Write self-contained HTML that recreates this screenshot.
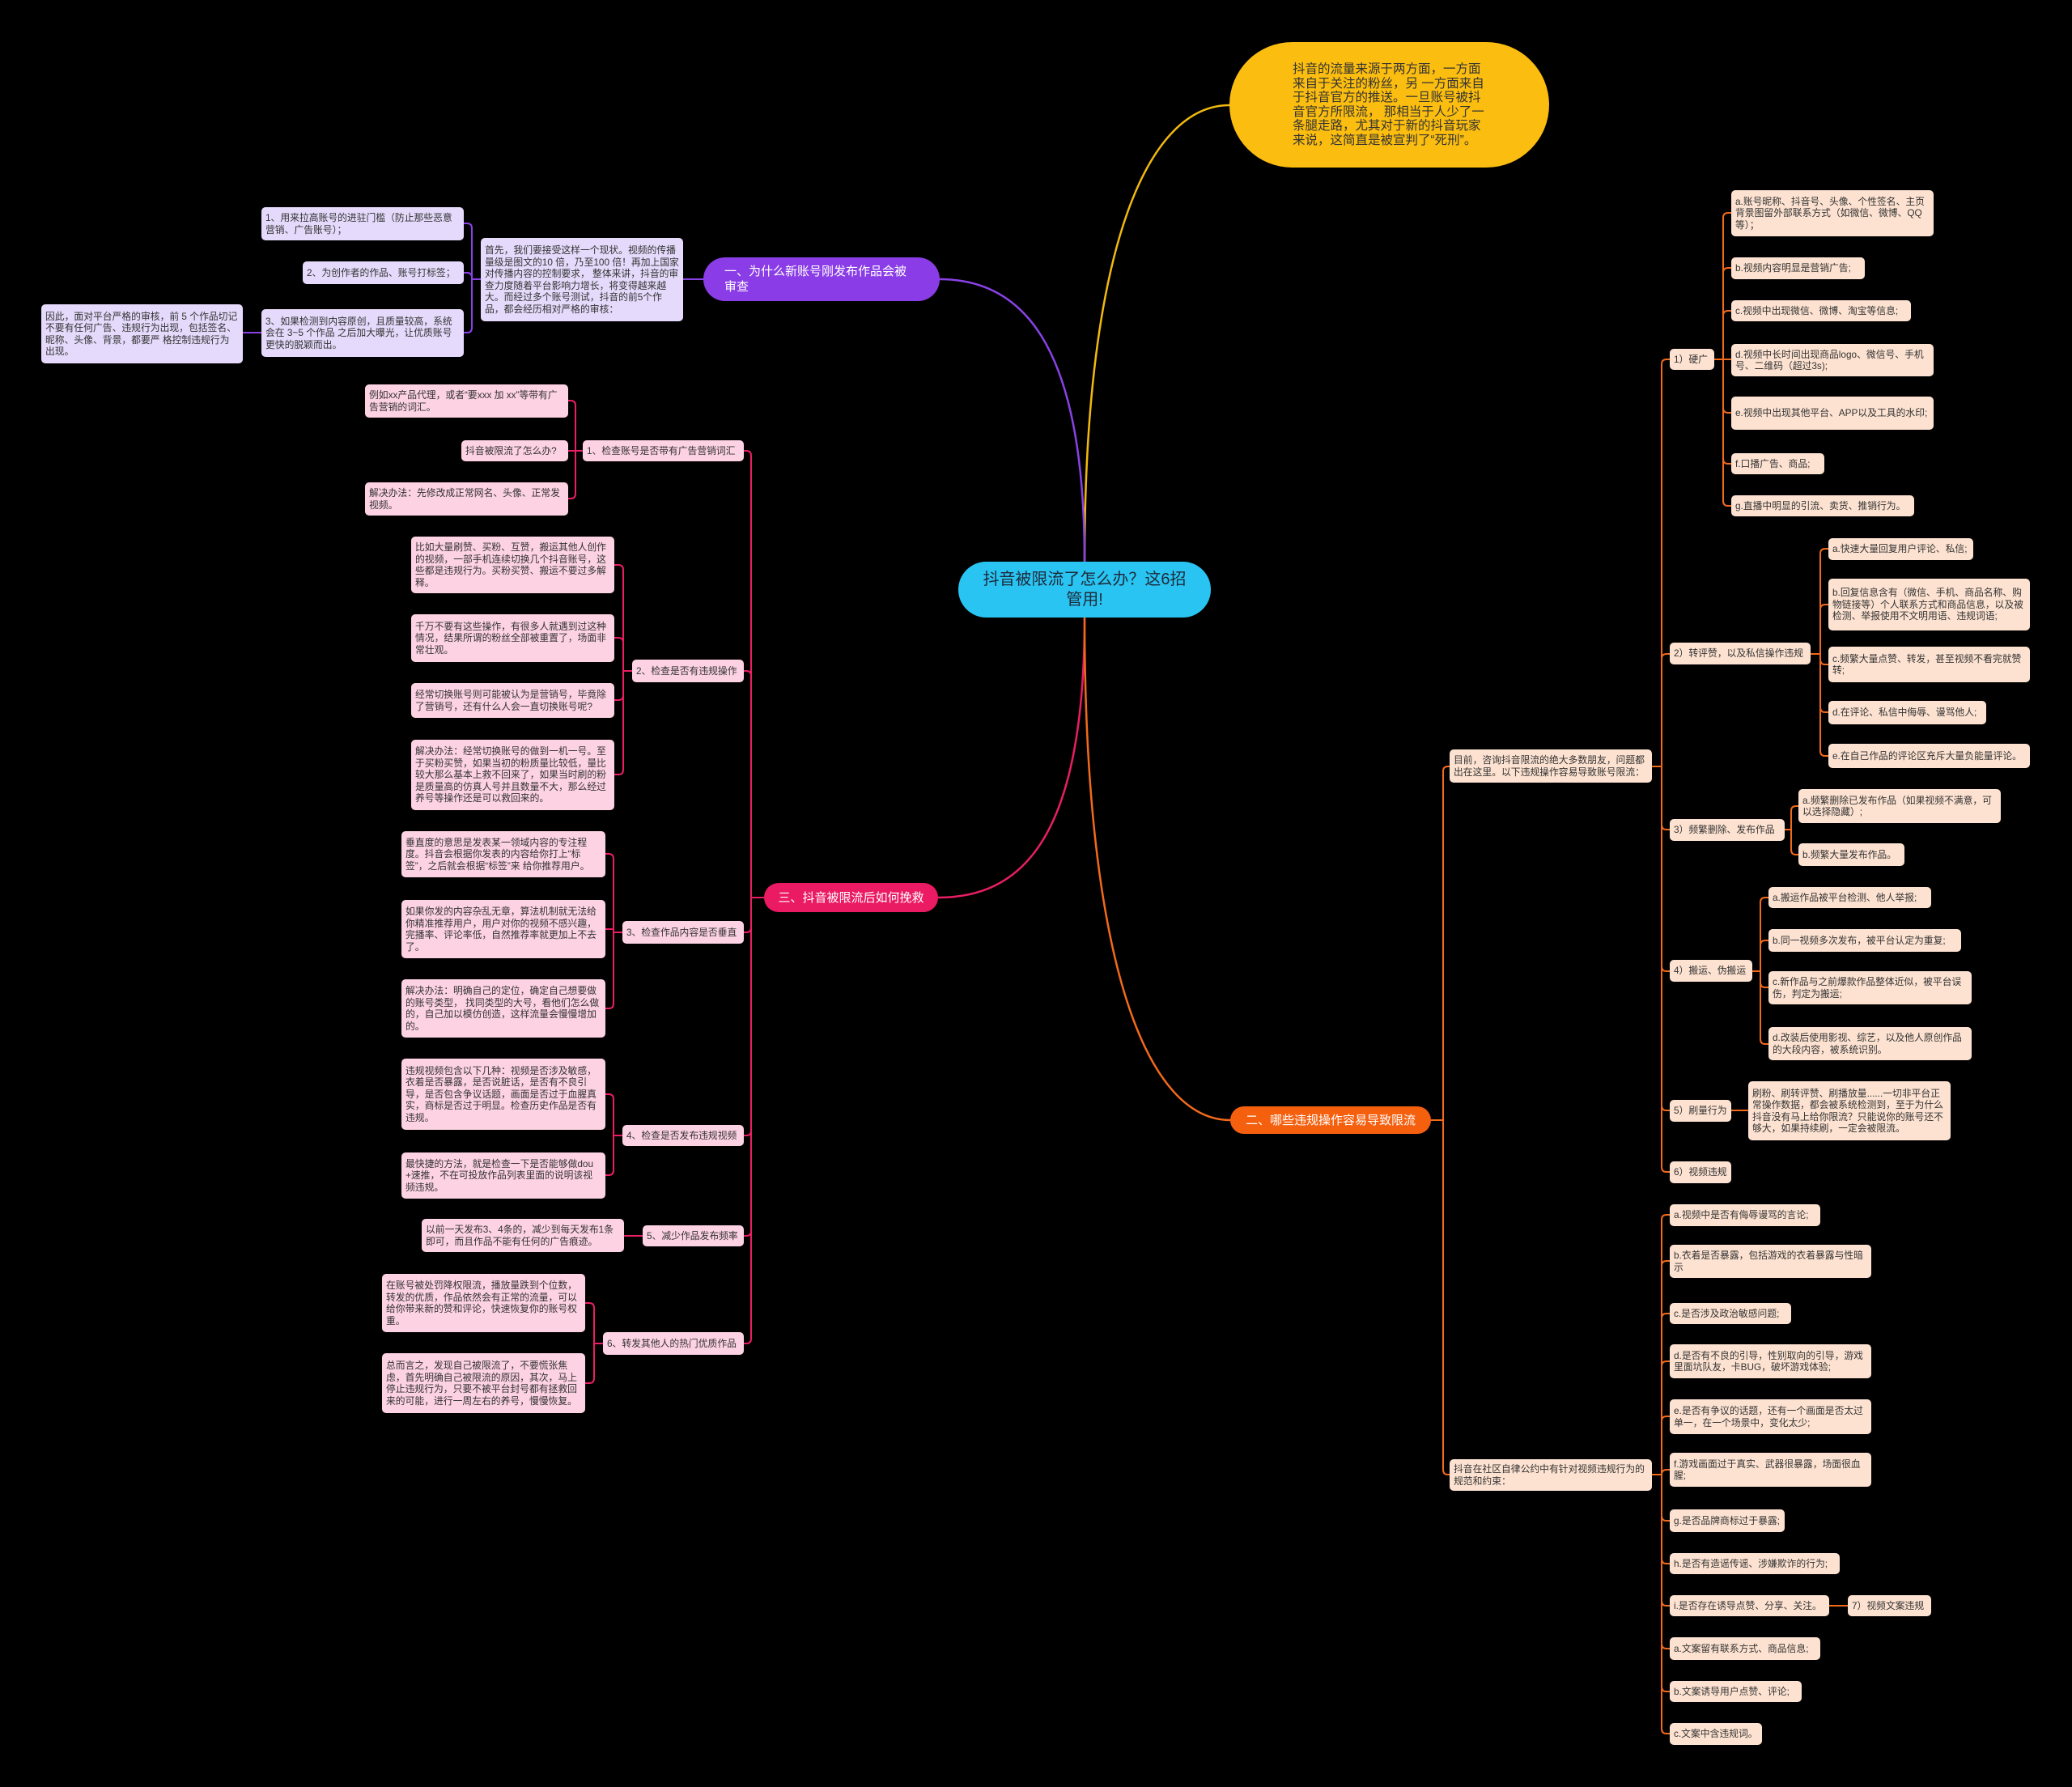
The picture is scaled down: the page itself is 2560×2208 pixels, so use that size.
<!DOCTYPE html>
<html><head><meta charset="utf-8">
<style>
html,body{margin:0;padding:0;background:#000;}
#c{position:relative;width:2560px;height:2208px;background:#000;overflow:hidden;font-family:"Liberation Sans","Noto Sans CJK SC",sans-serif;}
.n{position:absolute;box-sizing:border-box;padding:3px 5px;font-size:11.8px;line-height:14.5px;border-radius:5px;color:#333;display:flex;align-items:center;word-break:break-all;}
.p{background:#e5dafb;}
.m{background:#fdd2e3;}
.o{background:#fde2d1;}
.big{position:absolute;box-sizing:border-box;color:#fff;font-size:15px;line-height:19px;display:flex;align-items:center;padding:0 14px;}
svg{position:absolute;left:0;top:0;}
</style></head><body><div id="c">
<svg width="2560" height="2208" fill="none" stroke-linecap="round">
<g stroke-width="2.5">
<path d="M1340 694 C1340 300,1420 130,1519 130" stroke="#f2b90f"/>
<path d="M1340 694 C1340 420,1260 345,1161 345" stroke="#8a42e6"/>
<path d="M1340 763 C1340 1040,1260 1109,1159 1109" stroke="#e91e63"/>
<path d="M1340 763 C1340 1200,1420 1384,1520 1384" stroke="#f26a1b"/>
</g>
<g stroke="#8a42e6" stroke-width="2">
<path d="M869 345 H844"/>
<path d="M594 345 H583 V282 Q583 276 577 276 H573"/>
<path d="M594 345 H583 V343 Q583 337 577 337 H573"/>
<path d="M594 345 H583 V405 Q583 411 577 411 H573"/>
<path d="M323 411 H300"/>
</g>
<g stroke="#e91e63" stroke-width="2">
<path d="M944 1109 H928 V563 Q928 557 922 557 H919"/>
<path d="M944 1109 H928 V835 Q928 829 922 829 H919"/>
<path d="M944 1109 H928 V1146 Q928 1152 922 1152 H919"/>
<path d="M944 1109 H928 V1397 Q928 1403 922 1403 H919"/>
<path d="M944 1109 H928 V1521 Q928 1527 922 1527 H919"/>
<path d="M944 1109 H928 V1654 Q928 1660 922 1660 H919"/>
<path d="M720 557 H711 V501 Q711 495 705 495 H702"/>
<path d="M720 557 H702"/>
<path d="M720 557 H711 V610 Q711 616 705 616 H702"/>
<path d="M781 829 H770 V704 Q770 698 764 698 H759"/>
<path d="M781 829 H770 V794 Q770 788 764 788 H759"/>
<path d="M781 829 H770 V859 Q770 865 764 865 H759"/>
<path d="M781 829 H770 V951 Q770 957 764 957 H759"/>
<path d="M769 1152 H758 V1061 Q758 1055 752 1055 H748"/>
<path d="M769 1152 H758 V1148 H748"/>
<path d="M769 1152 H758 V1240 Q758 1246 752 1246 H748"/>
<path d="M769 1403 H758 V1358 Q758 1352 752 1352 H748"/>
<path d="M769 1403 H758 V1446 Q758 1452 752 1452 H748"/>
<path d="M794 1527 H771"/>
<path d="M745 1660 H734 V1616 Q734 1610 728 1610 H723"/>
<path d="M745 1660 H734 V1703 Q734 1709 728 1709 H723"/>
</g>
<g stroke="#f26a1b" stroke-width="2">
<path d="M1768 1384 H1783 V953 Q1783 947 1789 947 H1791"/>
<path d="M1768 1384 H1783 V1816 Q1783 1822 1789 1822 H1791"/>
<path d="M2041 947 H2053 V450 Q2053 444 2059 444 H2063"/>
<path d="M2041 947 H2053 V814 Q2053 808 2059 808 H2063"/>
<path d="M2041 947 H2053 V1019 Q2053 1025 2059 1025 H2063"/>
<path d="M2041 947 H2053 V1194 Q2053 1200 2059 1200 H2063"/>
<path d="M2041 947 H2053 V1366 Q2053 1372 2059 1372 H2063"/>
<path d="M2041 947 H2053 V1442 Q2053 1448 2059 1448 H2063"/>
<path d="M2118 444 H2129 V269 Q2129 263 2135 263 H2139"/>
<path d="M2118 444 H2129 V337 Q2129 331 2135 331 H2139"/>
<path d="M2118 444 H2129 V390 Q2129 384 2135 384 H2139"/>
<path d="M2118 444 H2139"/>
<path d="M2118 444 H2129 V504 Q2129 510 2135 510 H2139"/>
<path d="M2118 444 H2129 V567 Q2129 573 2135 573 H2139"/>
<path d="M2118 444 H2129 V619 Q2129 625 2135 625 H2139"/>
<path d="M2237 808 H2249 V684 Q2249 678 2255 678 H2259"/>
<path d="M2237 808 H2249 V753 Q2249 747 2255 747 H2259"/>
<path d="M2237 808 H2249 V815 Q2249 821 2255 821 H2259"/>
<path d="M2237 808 H2249 V874 Q2249 880 2255 880 H2259"/>
<path d="M2237 808 H2249 V928 Q2249 934 2255 934 H2259"/>
<path d="M2205 1025 H2213 V1002 Q2213 996 2219 996 H2222"/>
<path d="M2205 1025 H2213 V1050 Q2213 1056 2219 1056 H2222"/>
<path d="M2165 1200 H2175 V1115 Q2175 1109 2181 1109 H2185"/>
<path d="M2165 1200 H2175 V1168 Q2175 1162 2181 1162 H2185"/>
<path d="M2165 1200 H2175 V1214 Q2175 1220 2181 1220 H2185"/>
<path d="M2165 1200 H2175 V1284 Q2175 1290 2181 1290 H2185"/>
<path d="M2139 1372 H2160"/>
<path d="M2041 1822 H2053 V1507 Q2053 1501 2059 1501 H2063"/>
<path d="M2041 1822 H2053 V1564 Q2053 1558 2059 1558 H2063"/>
<path d="M2041 1822 H2053 V1629 Q2053 1623 2059 1623 H2063"/>
<path d="M2041 1822 H2053 V1688 Q2053 1682 2059 1682 H2063"/>
<path d="M2041 1822 H2053 V1756 Q2053 1750 2059 1750 H2063"/>
<path d="M2041 1822 H2053 V1822 Q2053 1816 2059 1816 H2063"/>
<path d="M2041 1822 H2053 V1873 Q2053 1879 2059 1879 H2063"/>
<path d="M2041 1822 H2053 V1926 Q2053 1932 2059 1932 H2063"/>
<path d="M2041 1822 H2053 V1978 Q2053 1984 2059 1984 H2063"/>
<path d="M2041 1822 H2053 V2031 Q2053 2037 2059 2037 H2063"/>
<path d="M2041 1822 H2053 V2084 Q2053 2090 2059 2090 H2063"/>
<path d="M2041 1822 H2053 V2136 Q2053 2142 2059 2142 H2063"/>
<path d="M2260 1984 H2283"/>
</g>
</svg>

<div class="big" style="left:1184px;top:694px;width:312px;height:69px;border-radius:35px;background:#29c4f2;color:#1e2a3a;font-size:20px;line-height:25px;justify-content:center;text-align:center;padding:0 30px;">抖音被限流了怎么办？这6招管用!</div>
<div class="big" style="left:1519px;top:52px;width:395px;height:155px;border-radius:78px;background:#fbbd0f;color:#333;font-size:15.5px;line-height:17.5px;padding:0 70px 0 78px;">抖音的流量来源于两方面，一方面来自于关注的粉丝，另 一方面来自于抖音官方的推送。一旦账号被抖音官方所限流， 那相当于人少了一条腿走路，尤其对于新的抖音玩家来说，这简直是被宣判了“死刑”。</div>
<div class="big" style="left:869px;top:318px;width:292px;height:54px;border-radius:27px;background:#8a3de6;padding:0 36px 0 26px;">一、为什么新账号刚发布作品会被审查</div>
<div class="big" style="left:944px;top:1091px;width:215px;height:36px;border-radius:18px;background:#ea1a63;justify-content:center;">三、抖音被限流后如何挽救</div>
<div class="big" style="left:1520px;top:1367px;width:248px;height:34px;border-radius:17px;background:#f5600f;justify-content:center;">二、哪些违规操作容易导致限流</div>

<div class="n p" style="left:594px;top:294px;width:250px;height:103px;">首先，我们要接受这样一个现状。视频的传播量级是图文的10 倍，乃至100 倍！再加上国家对传播内容的控制要求， 整体来讲，抖音的审查力度随着平台影响力增长，将变得越来越大。而经过多个账号测试，抖音的前5个作品，都会经历相对严格的审核：</div>
<div class="n p" style="left:323px;top:256px;width:250px;height:41px;">1、用来拉高账号的进驻门槛（防止那些恶意营销、广告账号）；</div>
<div class="n p" style="left:374px;top:323px;width:199px;height:28px;">2、为创作者的作品、账号打标签；</div>
<div class="n p" style="left:323px;top:382px;width:250px;height:59px;">3、如果检测到内容原创，且质量较高，系统会在 3~5 个作品 之后加大曝光，让优质账号更快的脱颖而出。</div>
<div class="n p" style="left:51px;top:376px;width:249px;height:73px;">因此，面对平台严格的审核，前 5 个作品切记不要有任何广告、违规行为出现，包括签名、昵称、头像、背景，都要严 格控制违规行为出现。</div>

<div class="n m" style="left:720px;top:544px;width:199px;height:26px;">1、检查账号是否带有广告营销词汇</div>
<div class="n m" style="left:451px;top:475px;width:251px;height:41px;">例如xx产品代理，或者“要xxx 加 xx”等带有广告营销的词汇。</div>
<div class="n m" style="left:570px;top:544px;width:132px;height:26px;">抖音被限流了怎么办?</div>
<div class="n m" style="left:451px;top:596px;width:251px;height:41px;">解决办法：先修改成正常网名、头像、正常发视频。</div>

<div class="n m" style="left:781px;top:815px;width:138px;height:28px;">2、检查是否有违规操作</div>
<div class="n m" style="left:508px;top:663px;width:251px;height:70px;">比如大量刷赞、买粉、互赞，搬运其他人创作的视频，一部手机连续切换几个抖音账号，这些都是违规行为。买粉买赞、搬运不要过多解释。</div>
<div class="n m" style="left:508px;top:759px;width:251px;height:59px;">千万不要有这些操作，有很多人就遇到过这种情况，结果所谓的粉丝全部被重置了，场面非常壮观。</div>
<div class="n m" style="left:508px;top:844px;width:251px;height:43px;">经常切换账号则可能被认为是营销号，毕竟除了营销号，还有什么人会一直切换账号呢?</div>
<div class="n m" style="left:508px;top:914px;width:251px;height:87px;">解决办法：经常切换账号的做到一机一号。至于买粉买赞，如果当初的粉质量比较低，量比较大那么基本上救不回来了，如果当时刷的粉是质量高的仿真人号并且数量不大，那么经过养号等操作还是可以救回来的。</div>

<div class="n m" style="left:769px;top:1138px;width:150px;height:28px;">3、检查作品内容是否垂直</div>
<div class="n m" style="left:496px;top:1027px;width:252px;height:57px;">垂直度的意思是发表某一领域内容的专注程度。抖音会根据你发表的内容给你打上“标签”，之后就会根据“标签”来 给你推荐用户。</div>
<div class="n m" style="left:496px;top:1112px;width:252px;height:72px;">如果你发的内容杂乱无章，算法机制就无法给你精准推荐用户，用户对你的视频不感兴趣，完播率、评论率低，自然推荐率就更加上不去了。</div>
<div class="n m" style="left:496px;top:1210px;width:252px;height:72px;">解决办法：明确自己的定位，确定自己想要做的账号类型， 找同类型的大号，看他们怎么做的，自己加以模仿创造，这样流量会慢慢增加的。</div>

<div class="n m" style="left:769px;top:1390px;width:150px;height:26px;">4、检查是否发布违规视频</div>
<div class="n m" style="left:496px;top:1308px;width:252px;height:88px;">违规视频包含以下几种：视频是否涉及敏感，衣着是否暴露，是否说脏话，是否有不良引导，是否包含争议话题，画面是否过于血腥真实，商标是否过于明显。检查历史作品是否有违规。</div>
<div class="n m" style="left:496px;top:1424px;width:252px;height:57px;">最快捷的方法，就是检查一下是否能够做dou+速推，不在可投放作品列表里面的说明该视频违规。</div>

<div class="n m" style="left:794px;top:1514px;width:125px;height:26px;">5、减少作品发布频率</div>
<div class="n m" style="left:521px;top:1506px;width:250px;height:41px;">以前一天发布3、4条的，减少到每天发布1条即可，而且作品不能有任何的广告痕迹。</div>

<div class="n m" style="left:745px;top:1646px;width:174px;height:28px;">6、转发其他人的热门优质作品</div>
<div class="n m" style="left:472px;top:1574px;width:251px;height:72px;">在账号被处罚降权限流，播放量跌到个位数，转发的优质，作品依然会有正常的流量，可以给你带来新的赞和评论，快速恢复你的账号权重。</div>
<div class="n m" style="left:472px;top:1672px;width:251px;height:74px;">总而言之，发现自己被限流了，不要慌张焦虑，首先明确自己被限流的原因，其次，马上停止违规行为，只要不被平台封号都有拯救回来的可能，进行一周左右的养号，慢慢恢复。</div>

<div class="n o" style="left:1791px;top:926px;width:250px;height:41px;">目前，咨询抖音限流的绝大多数朋友，问题都出在这里。以下违规操作容易导致账号限流：</div>
<div class="n o" style="left:1791px;top:1803px;width:250px;height:39px;">抖音在社区自律公约中有针对视频违规行为的规范和约束：</div>

<div class="n o" style="left:2063px;top:431px;width:55px;height:26px;">1）硬广</div>
<div class="n o" style="left:2063px;top:794px;width:174px;height:27px;">2）转评赞，以及私信操作违规</div>
<div class="n o" style="left:2063px;top:1012px;width:142px;height:27px;">3）频繁删除、发布作品</div>
<div class="n o" style="left:2063px;top:1186px;width:102px;height:27px;">4）搬运、伪搬运</div>
<div class="n o" style="left:2063px;top:1359px;width:76px;height:27px;">5）刷量行为</div>
<div class="n o" style="left:2063px;top:1435px;width:76px;height:27px;">6）视频违规</div>

<div class="n o" style="left:2139px;top:235px;width:250px;height:57px;">a.账号昵称、抖音号、头像、个性签名、主页背景图留外部联系方式（如微信、微博、QQ等）；</div>
<div class="n o" style="left:2139px;top:318px;width:165px;height:27px;">b.视频内容明显是营销广告;</div>
<div class="n o" style="left:2139px;top:371px;width:222px;height:26px;">c.视频中出现微信、微博、淘宝等信息;</div>
<div class="n o" style="left:2139px;top:425px;width:250px;height:40px;">d.视频中长时间出现商品logo、微信号、手机号、二维码（超过3s);</div>
<div class="n o" style="left:2139px;top:490px;width:250px;height:41px;">e.视频中出现其他平台、APP以及工具的水印;</div>
<div class="n o" style="left:2139px;top:560px;width:115px;height:26px;">f.口播广告、商品;</div>
<div class="n o" style="left:2139px;top:612px;width:226px;height:26px;">g.直播中明显的引流、卖货、推销行为。</div>

<div class="n o" style="left:2259px;top:665px;width:179px;height:27px;">a.快速大量回复用户评论、私信;</div>
<div class="n o" style="left:2259px;top:715px;width:249px;height:64px;">b.回复信息含有（微信、手机、商品名称、购物链接等）个人联系方式和商品信息，以及被检测、举报使用不文明用语、违规词语;</div>
<div class="n o" style="left:2259px;top:799px;width:249px;height:44px;">c.频繁大量点赞、转发，甚至视频不看完就赞转;</div>
<div class="n o" style="left:2259px;top:866px;width:195px;height:29px;">d.在评论、私信中侮辱、谩骂他人;</div>
<div class="n o" style="left:2259px;top:919px;width:249px;height:30px;">e.在自己作品的评论区充斥大量负能量评论。</div>

<div class="n o" style="left:2222px;top:975px;width:250px;height:42px;">a.频繁删除已发布作品（如果视频不满意，可以选择隐藏）;</div>
<div class="n o" style="left:2222px;top:1042px;width:131px;height:28px;">b.频繁大量发布作品。</div>

<div class="n o" style="left:2185px;top:1096px;width:201px;height:26px;">a.搬运作品被平台检测、他人举报;</div>
<div class="n o" style="left:2185px;top:1148px;width:238px;height:28px;">b.同一视频多次发布，被平台认定为重复;</div>
<div class="n o" style="left:2185px;top:1200px;width:251px;height:41px;">c.新作品与之前爆款作品整体近似，被平台误伤，判定为搬运;</div>
<div class="n o" style="left:2185px;top:1269px;width:251px;height:41px;">d.改装后使用影视、综艺，以及他人原创作品的大段内容，被系统识别。</div>

<div class="n o" style="left:2160px;top:1336px;width:250px;height:73px;">刷粉、刷转评赞、刷播放量......一切非平台正常操作数据，都会被系统检测到，至于为什么抖音没有马上给你限流？只能说你的账号还不够大，如果持续刷，一定会被限流。</div>

<div class="n o" style="left:2063px;top:1488px;width:186px;height:27px;">a.视频中是否有侮辱谩骂的言论;</div>
<div class="n o" style="left:2063px;top:1538px;width:249px;height:41px;">b.衣着是否暴露，包括游戏的衣着暴露与性暗示</div>
<div class="n o" style="left:2063px;top:1610px;width:150px;height:26px;">c.是否涉及政治敏感问题;</div>
<div class="n o" style="left:2063px;top:1661px;width:249px;height:42px;">d.是否有不良的引导，性别取向的引导，游戏里面坑队友，卡BUG，破坏游戏体验;</div>
<div class="n o" style="left:2063px;top:1729px;width:249px;height:43px;">e.是否有争议的话题，还有一个画面是否太过单一，在一个场景中，变化太少;</div>
<div class="n o" style="left:2063px;top:1795px;width:249px;height:42px;">f.游戏画面过于真实、武器很暴露，场面很血腥;</div>
<div class="n o" style="left:2063px;top:1865px;width:142px;height:28px;">g.是否品牌商标过于暴露;</div>
<div class="n o" style="left:2063px;top:1919px;width:210px;height:26px;">h.是否有造谣传谣、涉嫌欺诈的行为;</div>
<div class="n o" style="left:2063px;top:1971px;width:197px;height:26px;">i.是否存在诱导点赞、分享、关注。</div>
<div class="n o" style="left:2283px;top:1971px;width:103px;height:26px;">7）视频文案违规</div>
<div class="n o" style="left:2063px;top:2023px;width:186px;height:28px;">a.文案留有联系方式、商品信息;</div>
<div class="n o" style="left:2063px;top:2077px;width:163px;height:26px;">b.文案诱导用户点赞、评论;</div>
<div class="n o" style="left:2063px;top:2129px;width:114px;height:27px;">c.文案中含违规词。</div>
</div></body></html>
